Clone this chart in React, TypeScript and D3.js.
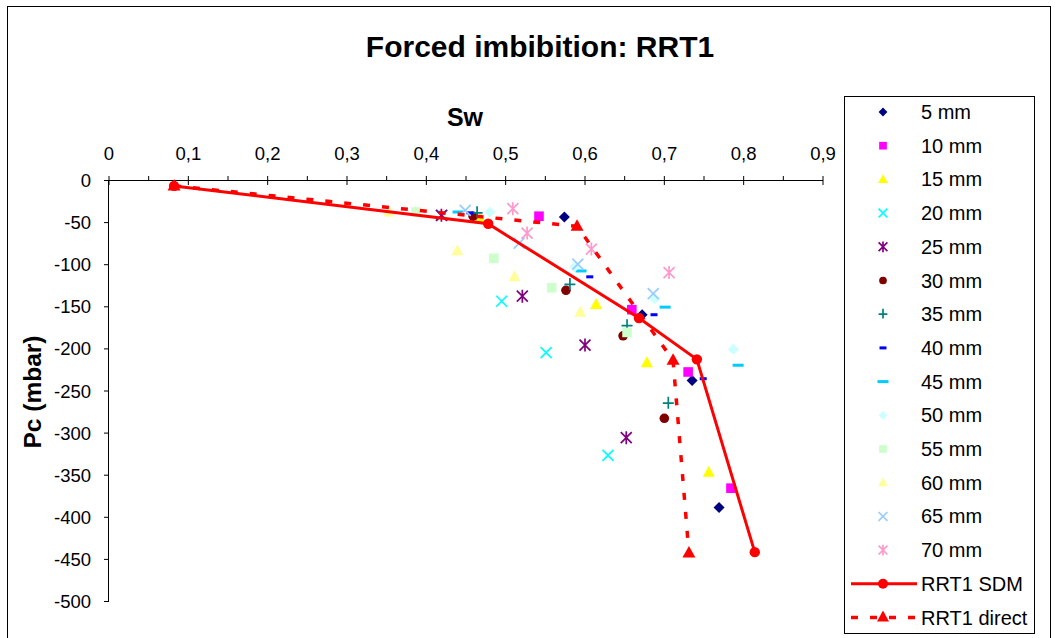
import { scaleLinear, line, range } from "d3";

// Sw (fraction) and Pc (mbar)
const series5 = { sw: [0.574, 0.672, 0.735, 0.769], pc: [-44, -160, -238, -389] };
const series10 = { sw: [0.542, 0.659, 0.73, 0.784], pc: [-43, -154, -228, -366] };
const series15 = { sw: [0.468, 0.614, 0.678, 0.756], pc: [-46, -148, -217, -347] };
const series20 = { sw: [0.42, 0.495, 0.551, 0.629], pc: [-42, -144, -205, -327] };
const series25 = { sw: [0.419, 0.521, 0.6, 0.652], pc: [-42, -138, -196, -306] };
const series30 = { sw: [0.459, 0.576, 0.648, 0.7], pc: [-43, -131, -185, -283] };
const series35 = { sw: [0.464, 0.581, 0.653, 0.705], pc: [-39, -124, -173, -265] };
const series40 = { sw: [0.455, 0.606, 0.687, 0.749], pc: [-39, -115, -160, -236] };
const series45 = { sw: [0.44, 0.595, 0.701, 0.793], pc: [-38, -108, -151, -220] };
const series50 = { sw: [0.48, 0.587, 0.688, 0.787], pc: [-38, -103, -141, -201] };
const series55 = { sw: [0.387, 0.485, 0.558, 0.653], pc: [-38, -93, -128, -181] };
const series60 = { sw: [0.353, 0.439, 0.511, 0.594], pc: [-38, -84, -115, -157] };
const series65 = { sw: [0.449, 0.517, 0.591, 0.686], pc: [-36, -75, -100, -135] };
const series70 = { sw: [0.509, 0.527, 0.608, 0.706], pc: [-34, -63, -82, -110] };

const sdmSw = [0.082, 0.478, 0.668, 0.741, 0.814];
const sdmPc = [-7, -52, -164, -213, -442];
const directSw = [0.082, 0.59, 0.711, 0.731];
const directPc = [-7, -55, -214, -443];

const xTicks = [0, 0.1, 0.2, 0.3, 0.4, 0.5, 0.6, 0.7, 0.8, 0.9];
const yTicks = [0, -50, -100, -150, -200, -250, -300, -350, -400, -450, -500];

type Shape = "diamond" | "square" | "triangle" | "x" | "star" | "circle" | "plus" | "dash" | "longdash";

const scatter: { name: string; data: { sw: number[]; pc: number[] }; shape: Shape; color: string }[] = [
  { name: "5 mm", data: series5, shape: "diamond", color: "#000080" },
  { name: "10 mm", data: series10, shape: "square", color: "#FF00FF" },
  { name: "15 mm", data: series15, shape: "triangle", color: "#FFFF00" },
  { name: "20 mm", data: series20, shape: "x", color: "#00FFFF" },
  { name: "25 mm", data: series25, shape: "star", color: "#800080" },
  { name: "30 mm", data: series30, shape: "circle", color: "#800000" },
  { name: "35 mm", data: series35, shape: "plus", color: "#008080" },
  { name: "40 mm", data: series40, shape: "dash", color: "#0000FF" },
  { name: "45 mm", data: series45, shape: "longdash", color: "#00CCFF" },
  { name: "50 mm", data: series50, shape: "diamond", color: "#CCFFFF" },
  { name: "55 mm", data: series55, shape: "square", color: "#CCFFCC" },
  { name: "60 mm", data: series60, shape: "triangle", color: "#FFFF99" },
  { name: "65 mm", data: series65, shape: "x", color: "#99CCFF" },
  { name: "70 mm", data: series70, shape: "star", color: "#FF99CC" },
];

const font = "'Liberation Sans', Arial, sans-serif";

function Marker({ shape, color, x, y, k = 1 }: { shape: Shape; color: string; x: number; y: number; k?: number }) {
  const s = 5.5 * k;
  switch (shape) {
    case "diamond":
      return <path d={`M${x},${y - s}L${x + s},${y}L${x},${y + s}L${x - s},${y}Z`} fill={color} />;
    case "square":
      return <rect x={x - 4.8 * k} y={y - 4.8 * k} width={9.6 * k} height={9.6 * k} fill={color} />;
    case "triangle":
      return <path d={`M${x},${y - 6.5 * k}L${x + 6 * k},${y + 4.5 * k}L${x - 6 * k},${y + 4.5 * k}Z`} fill={color} />;
    case "circle":
      return <circle cx={x} cy={y} r={4.8 * k} fill={color} />;
    case "x":
      return (
        <path d={`M${x - s},${y - s}L${x + s},${y + s}M${x - s},${y + s}L${x + s},${y - s}`} stroke={color} strokeWidth={1.7} />
      );
    case "star":
      return (
        <path
          d={`M${x - s},${y - s}L${x + s},${y + s}M${x - s},${y + s}L${x + s},${y - s}M${x},${y - s - 1}L${x},${y + s + 1}`}
          stroke={color}
          strokeWidth={1.7}
        />
      );
    case "plus":
      return <path d={`M${x - s},${y}L${x + s},${y}M${x},${y - s - 1}L${x},${y + s}`} stroke={color} strokeWidth={1.7} />;
    case "dash":
      return <rect x={x - 3.5} y={y - 1.5} width={7} height={3} fill={color} />;
    case "longdash":
      return <rect x={x - 5.5} y={y - 1.5} width={11} height={3} fill={color} />;
  }
}

export default function App() {
  const x = scaleLinear().domain([0, 0.9]).range([109, 823]);
  const y = scaleLinear().domain([0, -500]).range([180, 601]);
  const fmt = (v: number) => String(+v.toFixed(1)).replace(".", ",");

  const path = line<[number, number]>()
    .x((d) => x(d[0]))
    .y((d) => y(d[1]));
  const sdm = sdmSw.map((s, i) => [s, sdmPc[i]] as [number, number]);
  const direct = directSw.map((s, i) => [s, directPc[i]] as [number, number]);

  const minorX = range(0.05, 0.9, 0.1);
  const legendNames = [...scatter.map((s) => s.name), "RRT1 SDM", "RRT1 direct"];
  const legendY = (i: number) => 112 + i * 33.7;

  return (
    <svg width={1058} height={638} style={{ position: "absolute", left: 0, top: 0 }} fontFamily={font}>
      <rect x={0} y={0} width={1058} height={638} fill="#fff" />
      <rect x={7.5} y={6.5} width={1043} height={640} fill="none" stroke="#000" strokeWidth={1} />

      <text x={540} y={57} textAnchor="middle" fontSize={30} fontWeight="bold">
        Forced imbibition: RRT1
      </text>
      <text x={465} y={126} textAnchor="middle" fontSize={25} fontWeight="bold">
        Sw
      </text>
      <text transform="translate(41,392) rotate(-90)" textAnchor="middle" fontSize={24.5} fontWeight="bold">
        Pc (mbar)
      </text>

      {/* x axis at the top */}
      <line x1={x(0)} x2={x(0.9)} y1={180.5} y2={180.5} stroke="#000" />
      {xTicks.map((t) => (
        <g key={t}>
          <line x1={x(t)} x2={x(t)} y1={176} y2={185} stroke="#000" />
          <text x={x(t)} y={160} textAnchor="middle" fontSize={18.5}>
            {fmt(t)}
          </text>
        </g>
      ))}
      {minorX.map((t) => (
        <line key={t} x1={x(t)} x2={x(t)} y1={176} y2={180} stroke="#000" />
      ))}

      {/* y axis */}
      <line x1={108.5} x2={108.5} y1={y(0)} y2={y(-500)} stroke="#000" />
      {yTicks.map((t) => (
        <g key={t}>
          <line x1={104} x2={109} y1={y(t) + 0.5} y2={y(t) + 0.5} stroke="#000" />
          <text x={91} y={y(t) + 7} textAnchor="end" fontSize={18.5}>
            {t}
          </text>
        </g>
      ))}

      {scatter.map((s) => (
        <g key={s.name}>
          {s.data.sw.map((v, i) => (
            <Marker key={i} shape={s.shape} color={s.color} x={x(v)} y={y(s.data.pc[i])} />
          ))}
        </g>
      ))}

      <path d={path(sdm) ?? ""} fill="none" stroke="#FF0000" strokeWidth={3} />
      {sdm.map((d, i) => (
        <circle key={i} cx={x(d[0])} cy={y(d[1])} r={5.2} fill="#FF0000" />
      ))}
      <path d={path(direct) ?? ""} fill="none" stroke="#FF0000" strokeWidth={3.5} strokeDasharray="7,12" />
      {direct.map((d, i) => (
        <path key={i} d={`M${x(d[0])},${y(d[1]) - 7}L${x(d[0]) + 6.5},${y(d[1]) + 4.5}L${x(d[0]) - 6.5},${y(d[1]) + 4.5}Z`} fill="#FF0000" />
      ))}

      {/* legend */}
      <rect x={844.5} y={96.5} width={190} height={537} fill="#fff" stroke="#000" />
      {legendNames.map((name, i) => (
        <text key={name} x={921} y={legendY(i) + 7} fontSize={20}>
          {name}
        </text>
      ))}
      {scatter.map((s, i) => (
        <Marker key={s.name} shape={s.shape} color={s.color} x={883} y={legendY(i)} k={0.8} />
      ))}
      <line x1={851} x2={917} y1={legendY(14)} y2={legendY(14)} stroke="#FF0000" strokeWidth={3} />
      <circle cx={883} cy={legendY(14)} r={5} fill="#FF0000" />
      <line x1={851} x2={917} y1={legendY(15)} y2={legendY(15)} stroke="#FF0000" strokeWidth={3.5} strokeDasharray="7,12" />
      <path d={`M883,${legendY(15) - 7}L889,${legendY(15) + 4}L877,${legendY(15) + 4}Z`} fill="#FF0000" />
    </svg>
  );
}
